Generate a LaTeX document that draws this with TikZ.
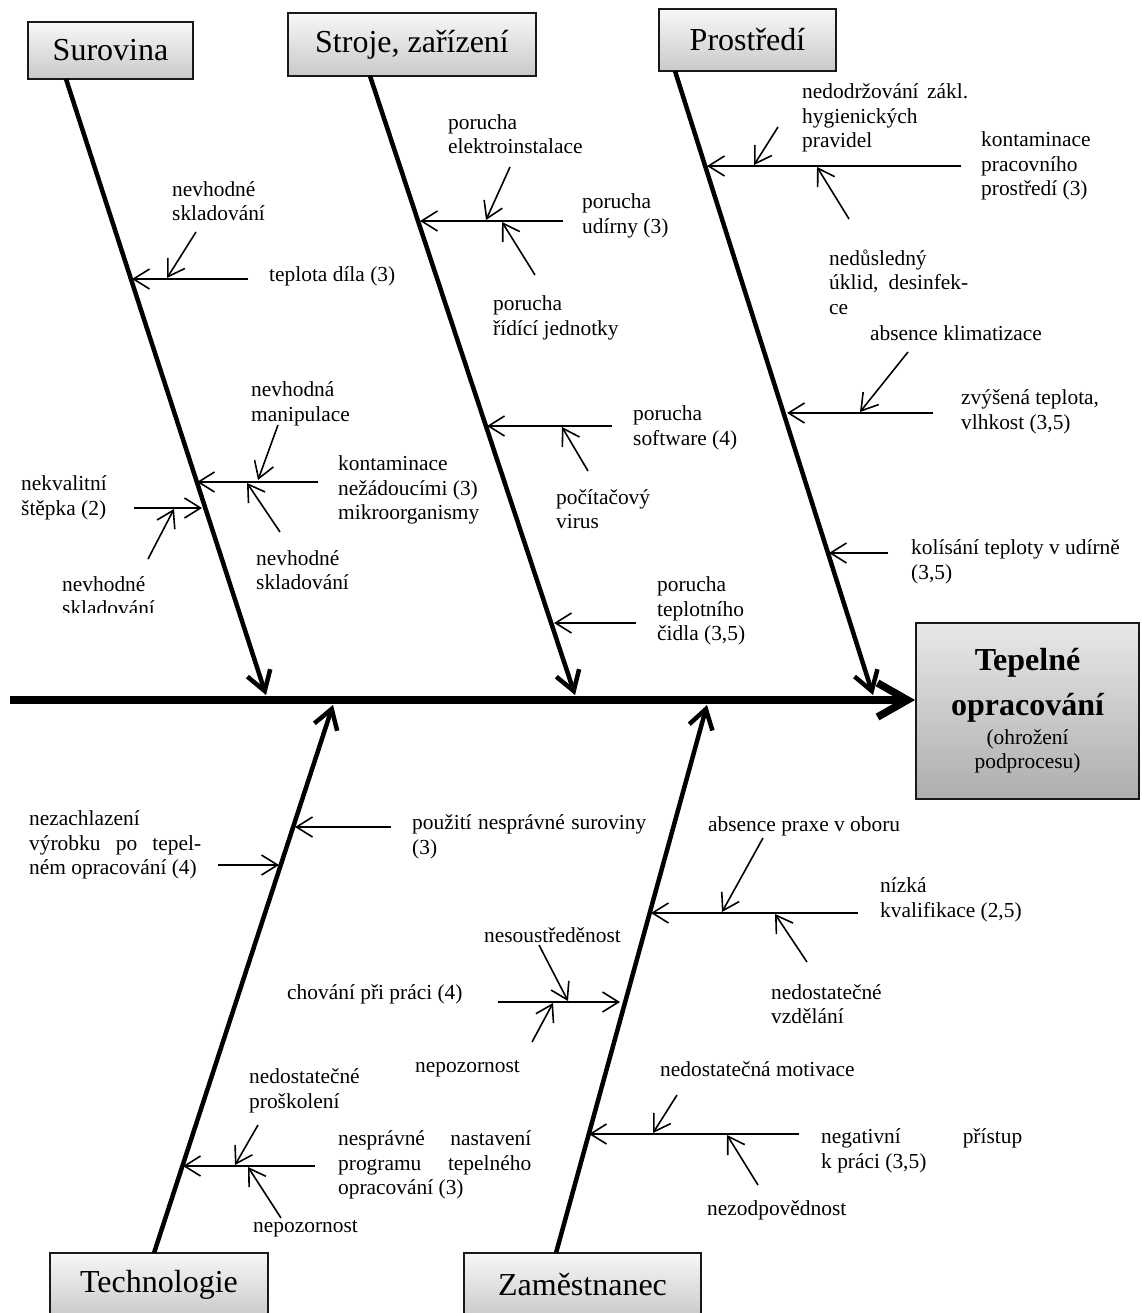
\documentclass[tikz,border=0pt]{standalone}
\usepackage{fontspec}
\setmainfont{Liberation Serif}
\usetikzlibrary{arrows.meta}
\begin{document}
\begin{tikzpicture}[x=1pt,y=-1pt,
  lbl/.style={font=\fontsize{21.4}{24.5}\selectfont, inner sep=0pt, align=left, anchor=west},
  catbox/.style={draw=black!90, line width=1.8pt, top color=black!3, bottom color=black!21, font=\fontsize{32}{36}\selectfont, inner sep=0pt},
  bone/.style={line width=4.5pt, -{Straight Barb[length=19pt,width=24pt]}},
  spine/.style={line width=7.5pt, -{Straight Barb[length=30pt,width=34pt]}},
  sub/.style={line width=1.6pt, -{Straight Barb[length=16pt,width=20pt]}}
]
\useasboundingbox (0,0) rectangle (1141,1313);

% category boxes
\node[catbox, minimum width=165pt, minimum height=57pt] (sur) at (110.5,50.5) {Surovina};
\node[catbox, minimum width=248pt, minimum height=63pt] (str) at (412,44.5) {Stroje, zařízení};
\node[catbox, minimum width=177pt, minimum height=62pt] (pro) at (747.5,40) {Prostředí};
\node[catbox, minimum width=218pt, minimum height=64pt] (tec) at (159,1285) {Technologie};
\node[catbox, minimum width=237pt, minimum height=64pt] (zam) at (582.5,1285) {Zaměstnanec};

% effect box
\node[draw=black!90, line width=1.8pt, top color=black!9, bottom color=black!32,
      minimum width=223pt, minimum height=176pt, text width=215pt, align=center, inner sep=0pt]
  (eff) at (1027.5,711)
  {\vspace*{10pt}{\fontsize{32}{35}\selectfont\bfseries Tepelné\\opracování\par}\vspace{4pt}{\fontsize{21.4}{24.5}\selectfont (ohrožení\\podprocesu)\par}};

% spine
\coordinate (sp0) at (10,700);
\draw[spine] (sp0) -- (sp0 -| eff.west);

% bones
\coordinate (b1s) at (66,79);   \coordinate (b1e) at (266,695);
\coordinate (b2s) at (370,76);  \coordinate (b2e) at (575,695);
\coordinate (b3s) at (675,71);  \coordinate (b3e) at (873,695);
\coordinate (b4s) at (154,1253);\coordinate (b4e) at (333,705);
\coordinate (b5s) at (556,1253);\coordinate (b5e) at (707,705);
\draw[bone] (b1s) -- (b1e);
\draw[bone] (b2s) -- (b2e);
\draw[bone] (b3s) -- (b3e);
\draw[bone] (b4s) -- (b4e);
\draw[bone] (b5s) -- (b5e);

% ---------- Surovina ----------
\node[lbl] (l1) at (172,201) {nevhodné\\skladování};
\node[lbl] (l2) at (269,276) {teplota díla (3)};
\node[lbl] (l3) at (251,404) {nevhodná\\manipulace};
\node[lbl] (l4) at (338,490) {kontaminace\\nežádoucími (3)\\mikroorganismy};
\node[lbl] (l5) at (21,498) {nekvalitní\\štěpka (2)};
\node[lbl] (l6) at (256,570) {nevhodné\\skladování};
\begin{scope}
  \clip (0,0) rectangle (240,612);
  \node[lbl] (l7) at (62,596) {nevhodné\\skladování};
\end{scope}
\coordinate (a1s) at (248,279);  \coordinate (a1e) at (132,279);
\coordinate (a1as) at (196,232); \coordinate (a1ae) at (167,278);
\coordinate (a2s) at (318,482);  \coordinate (a2e) at (197,482);
\coordinate (a2as) at (278,425); \coordinate (a2ae) at (258,480);
\coordinate (a2bs) at (280,532); \coordinate (a2be) at (247,483);
\coordinate (a3s) at (134,508);  \coordinate (a3e) at (202,508);
\coordinate (a3as) at (148,559); \coordinate (a3ae) at (174,509);
\draw[sub] (a1s) -- (a1e);
\draw[sub] (a1as) -- (a1ae);
\draw[sub] (a2s) -- (a2e);
\draw[sub] (a2as) -- (a2ae);
\draw[sub] (a2bs) -- (a2be);
\draw[sub] (a3s) -- (a3e);
\draw[sub] (a3as) -- (a3ae);

% ---------- Stroje, zarizeni ----------
\node[lbl] (m1) at (448,134) {porucha\\elektroinstalace};
\node[lbl] (m2) at (582,216) {porucha\\udírny (3)};
\node[lbl] (m3) at (493,318) {porucha\\řídící jednotky};
\node[lbl] (m4) at (633,428) {porucha\\software (4)};
\node[lbl] (m5) at (556,509) {počítačový\\virus};
\node[lbl] (m6) at (657,611) {porucha\\teplotního\\čidla (3,5)};
\coordinate (c1s) at (563,221);  \coordinate (c1e) at (420,221);
\coordinate (c1as) at (510,167); \coordinate (c1ae) at (486,220);
\coordinate (c1bs) at (535,275); \coordinate (c1be) at (502,222);
\coordinate (c2s) at (612,426);  \coordinate (c2e) at (487,426);
\coordinate (c2as) at (588,471); \coordinate (c2ae) at (562,427);
\coordinate (c3s) at (636,623);  \coordinate (c3e) at (554,623);
\draw[sub] (c1s) -- (c1e);
\draw[sub] (c1as) -- (c1ae);
\draw[sub] (c1bs) -- (c1be);
\draw[sub] (c2s) -- (c2e);
\draw[sub] (c2as) -- (c2ae);
\draw[sub] (c3s) -- (c3e);

% ---------- Prostredi ----------
\node[lbl] (p1) at (802,118) {\makebox[166pt][s]{nedodržování zákl.}\\hygienických\\pravidel};
\node[lbl] (p2) at (981,166) {kontaminace\\pracovního\\prostředí (3)};
\node[lbl] (p3) at (829,282) {nedůsledný\\\makebox[139pt][s]{úklid, desinfek-}\\ce};
\node[lbl] (p4) at (870,333) {absence klimatizace};
\node[lbl] (p5) at (961,412) {zvýšená teplota,\\vlhkost (3,5)};
\node[lbl] (p6) at (911,562) {kolísání teploty v udírně\\(3,5)};
\coordinate (d1s) at (961,166);  \coordinate (d1e) at (707,166);
\coordinate (d1as) at (778,127); \coordinate (d1ae) at (754,165);
\coordinate (d1bs) at (849,219); \coordinate (d1be) at (817,167);
\coordinate (d2s) at (933,413);  \coordinate (d2e) at (787,413);
\coordinate (d2as) at (908,352); \coordinate (d2ae) at (860,412);
\coordinate (d3s) at (888,553);  \coordinate (d3e) at (829,553);
\draw[sub] (d1s) -- (d1e);
\draw[sub] (d1as) -- (d1ae);
\draw[sub] (d1bs) -- (d1be);
\draw[sub] (d2s) -- (d2e);
\draw[sub] (d2as) -- (d2ae);
\draw[sub] (d3s) -- (d3e);

% ---------- Technologie ----------
\node[lbl] (t1) at (29,845) {nezachlazení\\\makebox[172pt][s]{výrobku po tepel-}\\ném opracování (4)};
\node[lbl] (t2) at (412,837) {\makebox[234pt][s]{použití nesprávné suroviny}\\(3)};
\node[lbl] (t3) at (249,1091) {nedostatečné\\proškolení};
\node[lbl] (t4) at (338,1165) {\makebox[193pt][s]{nesprávné nastavení}\\\makebox[193pt][s]{programu tepelného}\\opracování (3)};
\node[lbl] (t5) at (253,1229) {nepozornost};
\coordinate (e1s) at (391,827);  \coordinate (e1e) at (295,827);
\coordinate (e2s) at (218,865);  \coordinate (e2e) at (279,865);
\coordinate (e3s) at (315,1166); \coordinate (e3e) at (183,1166);
\coordinate (e3as) at (258,1125);\coordinate (e3ae) at (235,1165);
\coordinate (e3bs) at (281,1218);\coordinate (e3be) at (248,1167);
\draw[sub] (e1s) -- (e1e);
\draw[sub] (e2s) -- (e2e);
\draw[sub] (e3s) -- (e3e);
\draw[sub] (e3as) -- (e3ae);
\draw[sub] (e3bs) -- (e3be);

% ---------- Zamestnanec ----------
\node[lbl] (z1) at (708,826) {absence praxe v oboru};
\node[lbl] (z2) at (880,900) {nízká\\kvalifikace (2,5)};
\node[lbl] (z3) at (771,1004) {nedostatečné\\vzdělání};
\node[lbl] (z4) at (484,935) {nesoustředěnost};
\node[lbl] (z5) at (287,994) {chování při práci (4)};
\node[lbl] (z6) at (415,1069) {nepozornost};
\node[lbl] (z7) at (660,1069) {nedostatečná motivace};
\node[lbl] (z8) at (821,1151) {\makebox[201pt][s]{negativní přístup}\\k práci (3,5)};
\node[lbl] (z9) at (707,1210) {nezodpovědnost};
\coordinate (f1s) at (858,913);  \coordinate (f1e) at (651,913);
\coordinate (f1as) at (763,838); \coordinate (f1ae) at (722,912);
\coordinate (f1bs) at (807,962); \coordinate (f1be) at (775,914);
\coordinate (f2s) at (498,1002); \coordinate (f2e) at (620,1002);
\coordinate (f2as) at (539,945); \coordinate (f2ae) at (568,1001);
\coordinate (f2bs) at (532,1042);\coordinate (f2be) at (553,1003);
\coordinate (f3s) at (799,1134); \coordinate (f3e) at (589,1134);
\coordinate (f3as) at (677,1095);\coordinate (f3ae) at (653,1133);
\coordinate (f3bs) at (758,1185);\coordinate (f3be) at (727,1135);
\draw[sub] (f1s) -- (f1e);
\draw[sub] (f1as) -- (f1ae);
\draw[sub] (f1bs) -- (f1be);
\draw[sub] (f2s) -- (f2e);
\draw[sub] (f2as) -- (f2ae);
\draw[sub] (f2bs) -- (f2be);
\draw[sub] (f3s) -- (f3e);
\draw[sub] (f3as) -- (f3ae);
\draw[sub] (f3bs) -- (f3be);
\end{tikzpicture}
\end{document}
